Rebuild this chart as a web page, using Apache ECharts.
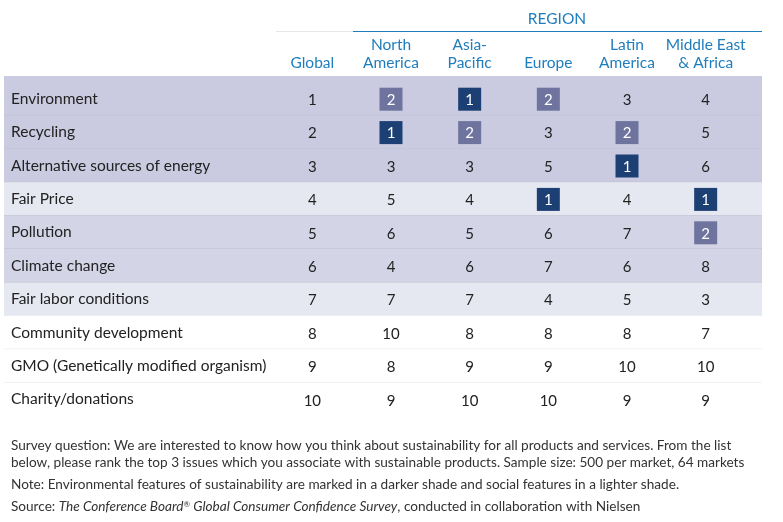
<!DOCTYPE html>
<html><head><meta charset="utf-8">
<script src="https://cdn.jsdelivr.net/npm/echarts@6/dist/echarts.min.js"></script>
<style>html,body{margin:0;padding:0;background:#fff}#c{width:783px;height:522px}</style>
</head><body><div id="c"></div>
<script>
var issues = ['Environment','Recycling','Alternative sources of energy','Fair Price','Pollution','Climate change','Fair labor conditions','Community development','GMO (Genetically modified organism)','Charity/donations'];
var columns = ['Global','North\nAmerica','Asia-\nPacific','Europe','Latin\nAmerica','Middle East\n& Africa'];
var rowGroup = ['env','env','env','social','env2','env2','social','none','none','none'];
var globalRank    = [1,2,3,4,5,6,7,8,9,10];
var northAmerica  = [2,1,3,5,6,4,7,10,8,9];
var asiaPacific   = [1,2,3,4,5,6,7,8,9,10];
var europe        = [2,3,5,1,6,7,4,8,9,10];
var latinAmerica  = [3,2,1,4,7,6,5,8,10,9];
var middleEast    = [4,5,6,1,2,8,3,7,10,9];
var headerGroup = 'REGION';
var noteLines = [
 'Survey question: We are interested to know how you think about sustainability for all products and services. From the list',
 'below, please rank the top 3 issues which you associate with sustainable products. Sample size: 500 per market, 64 markets',
 'Note: Environmental features of sustainability are marked in a darker shade and social features in a lighter shade.'
];

var bandColor = {env:'#cacbe0', env2:'#d3d4e6', social:'#e6e8f1', none:'#ffffff'};
var allCols = [globalRank, northAmerica, asiaPacific, europe, latinAmerica, middleEast];
var cells = [];
allCols.forEach(function(arr, c){ arr.forEach(function(v, r){ cells.push([c, r, v]); }); });
var bands = rowGroup.map(function(g, r){ return [0, r, g]; });

var chart = echarts.init(document.getElementById('c'));
var FONT = 'Lato';
var NOTE = '13.6px ' + FONT;
chart.setOption({
  animation:false,
  textStyle:{fontFamily:FONT},
  grid:{left:273, right:38, top:82, bottom:106},
  xAxis:{type:'category', data:columns, position:'top', z:10,
    axisLine:{show:false}, axisTick:{show:false}, splitLine:{show:false},
    axisLabel:{color:'#1f7dbd', fontSize:15.5, lineHeight:18, margin:10, fontFamily:FONT, interval:0}},
  yAxis:{type:'category', data:issues, inverse:true, z:10,
    axisLine:{show:false}, axisTick:{show:false}, splitLine:{show:false},
    axisLabel:{color:'#222', fontSize:15.5, align:'left', margin:262, fontFamily:FONT, interval:0, padding:[3,0,0,0]}},
  series:[
    {type:'custom', data:bands, z:1, silent:true, clip:false,
     renderItem:function(params, api){
       var r = api.value(1);
       var p = api.coord([0, r]);
       var h = api.size([1,1])[1];
       var top = p[1]-h/2, bottom = p[1]+h/2;
       if (r === 0) top -= 6;
       var g = rowGroup[r];
       var lineColor = (g==='none' || (r+1<rowGroup.length && rowGroup[r+1]==='none')) ? '#e2e2ea' : '#bdbdcf';
       var children = [{type:'rect', shape:{x:4, y:top, width:758, height:bottom-top}, style:{fill:bandColor[g]}}];
       if (r < rowGroup.length-1) {
         children.push({type:'line', shape:{x1:4, y1:bottom, x2:762, y2:bottom}, style:{stroke:lineColor, lineWidth:1}});
       }
       return {type:'group', children:children};
     }},
    {type:'custom', data:cells, z:3, silent:true, clip:false,
     renderItem:function(params, api){
       var c = api.value(0), r = api.value(1), v = api.value(2);
       var p = api.coord([c, r]);
       var children = [];
       var boxed = c > 0 && v <= 2;
       if (boxed) {
         children.push({type:'rect', shape:{x:p[0]-11.5, y:p[1]-11, width:23, height:23},
           style:{fill: v===1 ? '#1c3f74' : '#6e749e'}});
       }
       children.push({type:'text', style:{x:p[0], y:p[1]+1.5, text:String(v), fill: boxed ? '#ffffff' : '#222222',
         font:'15px ' + FONT, textAlign:'center', textVerticalAlign:'middle'}});
       return {type:'group', children:children};
     }}
  ],
  graphic:[
    {type:'text', style:{x:557, y:11, text:headerGroup, fill:'#1f7dbd', font:'15.5px '+FONT, textAlign:'center', textVerticalAlign:'top'}},
    {type:'line', shape:{x1:276, y1:31.5, x2:353, y2:31.5}, style:{stroke:'#e6e6ea', lineWidth:1}},
    {type:'line', shape:{x1:353, y1:31.5, x2:762, y2:31.5}, style:{stroke:'#1f7dbd', lineWidth:1}},
    {type:'text', left:11, top:437, style:{text:noteLines[0]+'\n'+noteLines[1], fill:'#333', font:NOTE, lineHeight:17}},
    {type:'text', left:11, top:478, style:{text:noteLines[2], fill:'#333', font:NOTE}},
    {type:'text', left:11, top:500, style:{text:'Source: {i|The Conference Board}{s|®}{i| Global Consumer Confidence Survey}, conducted in collaboration with Nielsen',
      fill:'#333', font:NOTE,
      rich:{i:{fontStyle:'italic', fontSize:13.6, fontFamily:FONT, color:'#333'}, s:{fontSize:8, verticalAlign:'top', fontFamily:FONT, color:'#333', padding:[0,0,6,0]}}}}
  ]
});
</script></body></html>
